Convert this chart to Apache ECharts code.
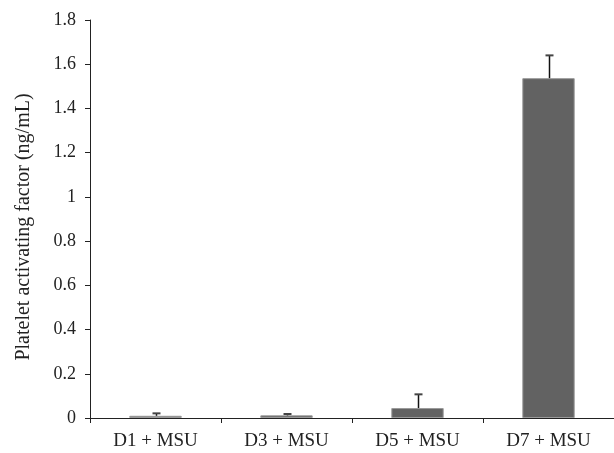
<!DOCTYPE html>
<html>
<head>
<meta charset="utf-8">
<script src="https://cdn.jsdelivr.net/npm/echarts@6/dist/echarts.min.js"></script>
<style>
  html, body { margin: 0; padding: 0; background: #fff; }
  #chart { width: 614px; height: 453px; }
</style>
</head>
<body>
<div id="chart"></div>
<script>
  // data
  const categories = ['D1 + MSU', 'D3 + MSU', 'D5 + MSU', 'D7 + MSU'];
  const means = [0.01, 0.012, 0.045, 1.537];
  const errTop = [0.021, 0.018, 0.107, 1.64];

  const font = 'Liberation Serif';
  let chart = echarts.init(document.getElementById('chart'));
  chart.setOption({
    animation: false,
    grid: {left: 90, right: 0, top: 20, bottom: 35},
    xAxis: {
      type: 'category',
      data: categories,
      axisLine: {lineStyle: {color: '#222', width: 1}},
      axisTick: {show: true, length: 5, lineStyle: {color: '#222'}},
      axisLabel: {color: '#222', fontFamily: font, fontSize: 19, margin: 14}
    },
    yAxis: {
      type: 'value',
      min: 0,
      max: 1.8,
      interval: 0.2,
      name: 'Platelet activating factor (ng/mL)',
      nameLocation: 'middle',
      nameGap: 56,
      nameTextStyle: {color: '#222', fontFamily: font, fontSize: 20, padding: [0, 16, 0, 0]},
      splitLine: {show: false},
      axisLine: {show: true, lineStyle: {color: '#222', width: 1}},
      axisTick: {show: true, length: 5, lineStyle: {color: '#222'}},
      axisLabel: {color: '#222', fontFamily: font, fontSize: 18, margin: 14}
    },
    series: [
      {
        type: 'bar',
        data: means,
        barWidth: '40%',
        itemStyle: {color: '#626262', borderColor: '#9a9a9a', borderWidth: 1}
      },
      {
        type: 'custom',
        data: errTop.map((v, i) => [i, means[i], v]),
        z: 5,
        renderItem: function (params, api) {
          let base = api.coord([api.value(0), api.value(1)]);
          let top = api.coord([api.value(0), api.value(2)]);
          let x = Math.round(base[0]) + 0.5;
          return {
            type: 'group',
            children: [
              {type: 'line', shape: {x1: x, y1: base[1], x2: x, y2: top[1]},
                style: {stroke: '#111', lineWidth: 1.5}},
              {type: 'line', shape: {x1: x - 4, y1: top[1], x2: x + 4, y2: top[1]},
                style: {stroke: '#444', lineWidth: 2}}
            ]
          };
        }
      }
    ]
  });
</script>
</body>
</html>
